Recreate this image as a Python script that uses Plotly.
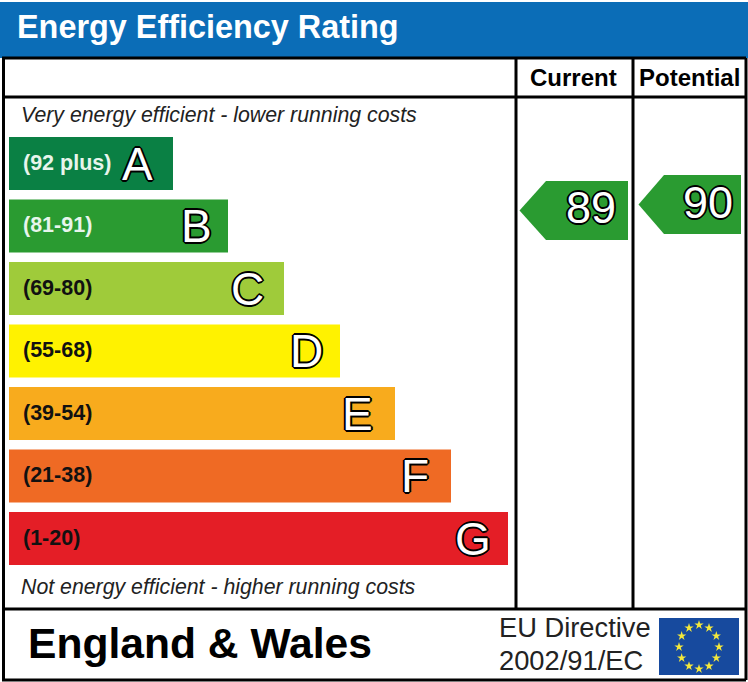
import numpy as np
import plotly.graph_objects as go

W, H = 748, 682

# ---- data ----
bands = ["A", "B", "C", "D", "E", "F", "G"]
ranges = ["(92 plus)", "(81-91)", "(69-80)", "(55-68)", "(39-54)", "(21-38)", "(1-20)"]
bar_lengths = [164, 219, 275, 331, 386, 442, 499]
bar_colors = ["#0a8044", "#2a9b31", "#9fcb3a", "#fff200", "#f8ab1d", "#ef6a24", "#e41e26"]
range_colors = ["#e8f5ec", "#e8f5ec", "#111111", "#111111", "#111111", "#111111", "#111111"]
letter_right = [153, 212, 264, 323, 373, 429, 491]
column_titles = ["Current", "Potential"]
ratings = [89, 90]
title = "Energy Efficiency Rating"
top_note = "Very energy efficient - lower running costs"
bottom_note = "Not energy efficient - higher running costs"
region = "England & Wales"
directive = ["EU Directive", "2002/91/EC"]

OUT = "1px 0 0 #000, -1px 0 0 #000, 0 1px 0 #000, 0 -1px 0 #000, 1px 1px 0 #000, -1px 1px 0 #000, 1px -1px 0 #000, -1px -1px 0 #000, 2px 0 0 #000, -2px 0 0 #000, 0 2px 0 #000, 0 -2px 0 #000"
SANS = "Liberation Sans"

fig = go.Figure()
fig.add_trace(go.Bar(
    y=bands, x=bar_lengths, base=9, orientation="h",
    marker=dict(color=bar_colors, line_width=0), hoverinfo="skip", showlegend=False,
))

# 12 EU stars on the hidden pixel axis
ang = np.deg2rad(np.arange(12) * 30)
fig.add_trace(go.Scatter(
    x=699 + 20 * np.sin(ang), y=647 - 22 * np.cos(ang), yaxis="y2", mode="markers",
    marker=dict(symbol="star", size=7, color="#f4e83c", line_width=0),
    hoverinfo="skip", showlegend=False,
))

shapes = []


def rect(x0, y0, x1, y1, color):
    shapes.append(dict(type="rect", xref="x", yref="y2", x0=x0, x1=x1, y0=y0, y1=y1,
                       fillcolor=color, line_width=0, layer="below"))


def line(x0, y0, x1, y1):
    shapes.append(dict(type="line", xref="x", yref="y2", x0=x0, x1=x1, y0=y0, y1=y1,
                       line=dict(color="#000000", width=3), layer="above"))


def arrow(tip, shoulder, right, top, bottom):
    mid = (top + bottom) / 2
    shapes.append(dict(type="path", xref="x", yref="y2",
                       path=f"M {tip} {mid} L {shoulder} {top} L {right} {top} L {right} {bottom} L {shoulder} {bottom} Z",
                       fillcolor="#2a9b31", line_width=0, layer="above"))


rect(0, 2, W, 58, "#0b6db7")
rect(659, 618, 739, 675, "#174a9e")
arrow(519.5, 546, 628, 181, 240)
arrow(638.5, 664, 741, 175, 234)

line(2, 58, 746, 58)
line(3.5, 58, 3.5, 680)
line(746, 58, 746, 680)
line(2, 97, 746, 97)
line(516, 58, 516, 609)
line(633, 58, 633, 609)
line(2, 609, 746, 609)
line(2, 680, 746, 680)

ann = []


def text(s, x, y, size, color="#000000", bold=False, italic=False, anchor="left", shadow=None):
    t = f"<b>{s}</b>" if bold else s
    t = f"<i>{t}</i>" if italic else t
    f = dict(family=SANS, size=size, color=color)
    if shadow:
        f["shadow"] = shadow
    ann.append(dict(text=t, x=x, y=y, xref="x", yref="y2", xanchor=anchor, yanchor="middle",
                    showarrow=False, font=f, borderpad=0, borderwidth=0))


text(title, 17, 27, 32.4, "#ffffff", bold=True)
text(column_titles[0], 573.5, 77.5, 24, bold=True, anchor="center")
text(column_titles[1], 689, 77.5, 24, bold=True, anchor="center")
text(top_note, 21, 115, 21.3, "#222222", italic=True)
text(bottom_note, 21, 587, 21.3, "#222222", italic=True)
text(region, 28, 643, 42.6, bold=True)
text(directive[0], 499, 627, 27.3, "#222222")
text(directive[1], 499, 660, 27.3, "#222222")

centers = [163.5, 226, 288.5, 351, 413.5, 476, 538.5]
for r, c, col, lr, b in zip(ranges, centers, range_colors, letter_right, bands):
    text(r, 23, c - 1, 21.5, col, bold=True)
    text(b, lr, c, 46, "#ffffff", anchor="right", shadow=OUT)

text(str(ratings[0]), 591, 207, 45, "#ffffff", anchor="center", shadow=OUT)
text(str(ratings[1]), 707.5, 202, 45, "#ffffff", anchor="center", shadow=OUT)

fig.update_layout(
    width=W, height=H, margin=dict(l=0, r=0, t=0, b=0),
    paper_bgcolor="#ffffff", plot_bgcolor="#ffffff", bargap=0.15,
    showlegend=False, shapes=shapes, annotations=ann,
    xaxis=dict(range=[0, W], visible=False, fixedrange=True),
    # bands sit 62.5 px apart, first band centred on pixel row 163.5
    yaxis=dict(type="category", categoryorder="array", categoryarray=bands, autorange=False,
               range=[(H - 163.5) / 62.5, -163.5 / 62.5], domain=[0, 1], visible=False, fixedrange=True),
    yaxis2=dict(range=[H, 0], overlaying="y", visible=False, fixedrange=True, anchor="x"),
)

fig.write_html("out.html", config={"displayModeBar": False},
               post_script="document.body.style.margin='0';document.body.style.overflow='hidden';")
